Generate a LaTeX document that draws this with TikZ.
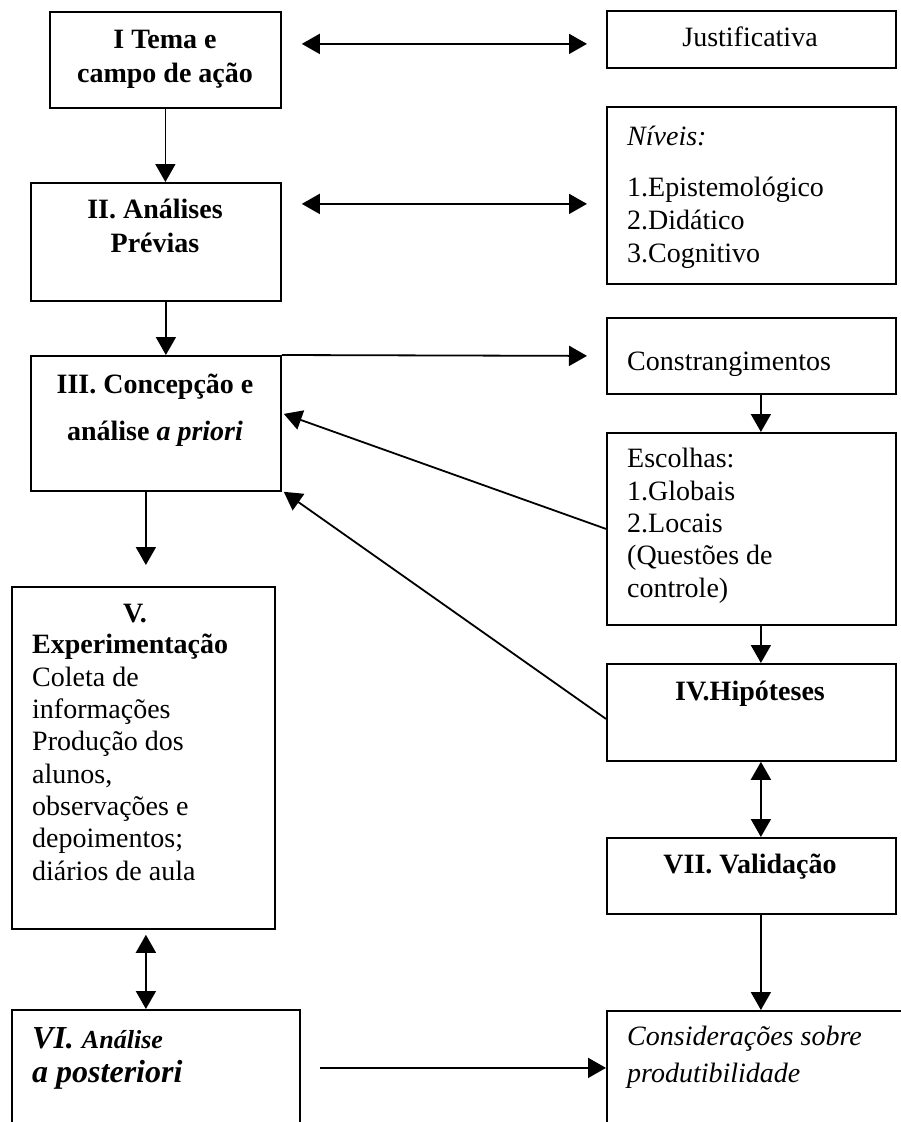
\documentclass[tikz,border=0pt]{standalone}
\usepackage{fontspec}
\setmainfont{Liberation Serif}
\usetikzlibrary{arrows.meta}

\begin{document}
\begin{tikzpicture}[x=1pt,y=-1pt,
		caixa/.style={draw,line width=1.8pt,anchor=north west,inner sep=0pt},
		texto/.style={inner sep=0pt,anchor=base west,align=left,font=\fontsize{28}{32.3}\selectfont},
		titulo/.style={inner sep=0pt,anchor=base,align=center,font=\fontsize{28}{34}\selectfont\bfseries},
		seta/.style={line width=1.8pt,-{Triangle[length=18pt,width=20pt]}},
		setadupla/.style={line width=1.8pt,{Triangle[length=18pt,width=20pt]}-{Triangle[length=18pt,width=20pt]}}]
		
		% Page frame
		\useasboundingbox (0,0) rectangle (901,1122);
		\clip (0,0) rectangle (901,1122);
		
		% Left column boxes
		\node[caixa,minimum width=231pt,minimum height=96pt] (tema) at (49,11) {};
		\node[caixa,minimum width=250pt,minimum height=118pt] (previas) at (30,182) {};
		\node[caixa,minimum width=250pt,minimum height=135pt] (concep) at (30,355) {};
		\node[caixa,minimum width=263pt,minimum height=342pt] (experim) at (11,586) {};
		\node[caixa,minimum width=288pt,minimum height=116pt] (post) at (11,1009) {};
		
		% Right column boxes
		\node[caixa,minimum width=289pt,minimum height=57pt] (justif) at (606,10) {};
		\node[caixa,minimum width=289pt,minimum height=177pt] (niveis) at (606,106) {};
		\node[caixa,minimum width=289pt,minimum height=76pt] (constr) at (606,317) {};
		\node[caixa,minimum width=289pt,minimum height=192pt] (escolhas) at (606,432) {};
		\node[caixa,minimum width=289pt,minimum height=97pt] (hipot) at (606,663) {};
		\node[caixa,minimum width=289pt,minimum height=76pt] (valid) at (606,837) {};
		\node[caixa,minimum width=320pt,minimum height=114pt] (consid) at (606,1010) {};
		
		% Texts, left column (base = last line)
		\node[titulo] (temaTxt) at (165,82) {I Tema e\\campo de ação};
		\node[titulo] (previasTxt) at (155,252) {II. Análises\\Prévias};
		\node[titulo] (concepTxt) at (155,440) {III. Concepção e\\[13pt]análise \textit{a priori}};
		\node[titulo] (experimTit) at (135,622) {V.};
		\node[texto] (experimTxt) at (32,880)
		{\textbf{Experimentação}\\Coleta de\\informações\\Produção dos\\alunos,\\observações e\\depoimentos;\\diários de aula};
		\node[texto,font=\fontsize{32}{34}\selectfont\bfseries\itshape] (postTxt) at (32,1082)
		{VI. {\fontsize{26}{34}\selectfont Análise}\\a posteriori};
		
		% Texts, right column
		\node[texto,anchor=base] (justifTxt) at (750,46) {Justificativa};
		\node[texto,font=\fontsize{28}{33}\selectfont] (niveisTxt) at (627,262)
		{\textit{Níveis:}\\[18pt]1.Epistemológico\\2.Didático\\3.Cognitivo};
		\node[texto] (constrTxt) at (627,370) {Constrangimentos};
		\node[texto] (escolhasTxt) at (627,597)
		{Escolhas:\\1.Globais\\2.Locais\\(Questões de\\controle)};
		\node[titulo] (hipotTxt) at (750,700) {IV.Hipóteses};
		\node[titulo] (validTxt) at (750,873) {VII. Validação};
		\node[texto,font=\fontsize{28}{37}\selectfont\itshape] (considTxt) at (627,1082)
		{Considerações sobre\\produtibilidade};
		
		% Double arrows between the columns
		\draw[setadupla] ([xshift=20pt,yshift=16pt]tema.east) -- ([xshift=-19pt,yshift=-4.5pt]justif.west);
		\draw[setadupla] ([xshift=20pt,yshift=38pt]previas.east) -- ([xshift=-19pt,yshift=-8.5pt]niveis.west);
		
		% Flow down the left column
		\draw[seta] (tema.south) -- (tema.south |- previas.north);
		\draw[seta] ([xshift=10pt]previas.south) -- ([xshift=10pt]concep.north);
		\draw[seta,shorten >=21pt] ([xshift=-10pt]concep.south) -- ([xshift=-10pt]concep.south |- experim.north);
		\draw[setadupla] ([xshift=2.5pt,yshift=-5pt]experim.south) -- ([xshift=2.5pt]experim.south |- post.north);
		
		% Flow down the right column
		\draw[seta] (concep.north east) -- ([xshift=-19pt]constr.west);
		\draw[seta] ([xshift=9.5pt]constr.south) -- ([xshift=9.5pt]escolhas.north);
		\draw[seta] ([xshift=9.5pt]escolhas.south) -- ([xshift=9.5pt]hipot.north);
		\draw[setadupla] ([xshift=9.5pt]hipot.south) -- ([xshift=9.5pt]valid.north);
		\draw[seta] ([xshift=9.5pt]valid.south) -- ([xshift=9.5pt]valid.south |- consid.north);
		
		% Back to III
		\draw[seta] (escolhas.west) -- ([xshift=2pt,yshift=9.5pt]concep.east);
		\draw[seta] ([yshift=-6.5pt]hipot.west) -- ([xshift=2pt]concep.south east);
		
		% VI to the closing box
		\draw[seta] ([xshift=19pt]post.east) -- (consid.west);
		
	\end{tikzpicture}
\end{document}
